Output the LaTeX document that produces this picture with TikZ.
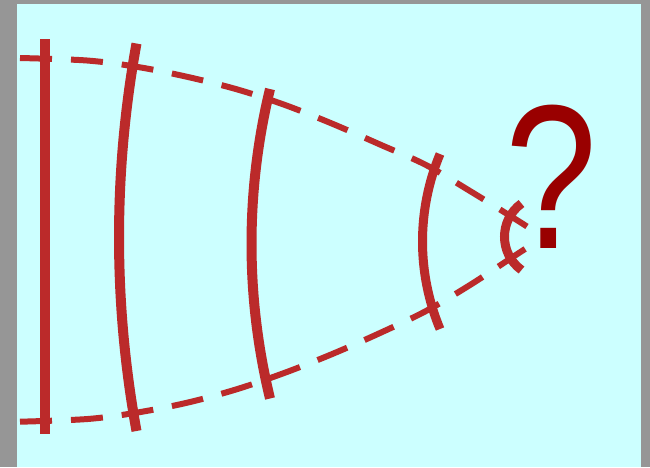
\documentclass[tikz,border=0pt]{standalone}
\usepackage{fontspec}
\setmainfont{Liberation Sans}
\definecolor{bggray}{RGB}{150,150,150}
\definecolor{bgcyan}{RGB}{204,255,255}
\definecolor{wavered}{RGB}{187,42,42}
\definecolor{qred}{RGB}{153,0,0}
\tikzset{
  beamline/.style={draw=wavered, line width=6pt, dash pattern=on 32pt off 19pt},
  wavefront/.style={draw=wavered, line width=10pt},
  qmark/.style={text=qred, inner sep=0pt, font=\fontsize{192}{192}\selectfont}
}
\begin{document}
\begin{tikzpicture}[x=1pt, y=-1pt]
\fill[bggray] (0,0) rectangle (650,467);
\useasboundingbox (0,0) rectangle (650,467);
\fill[bgcyan] (17,4) rectangle (641,467);
% beam edges
\draw[beamline] plot[smooth, tension=0.55] coordinates {(20,58) (87,60.5) (138,67) (188,77) (237.5,89.5) (285,105) (333,124) (380,144.5) (426,165) (470,191) (512,217) (527,226.5)};
\draw[beamline] plot[smooth, tension=0.55] coordinates {(20,421.7) (87.5,419) (137.5,412.5) (188,402.5) (237.5,389) (285.5,372.5) (333,353.7) (380,333) (426,311) (470,285) (512,257.5) (527,247.7)};
% wavefronts
\draw[wavefront] (44.5,39) -- (44.5,434);
\draw[wavefront] (136.5,43.5) .. controls (113.2,171.7) and (113.2,302.8) .. (136.5,431);
\draw[wavefront] (270,89) .. controls (245.35,190.65) and (245.35,296.85) .. (270,398.5);
\draw[wavefront, line width=9pt] (440,154) .. controls (416.67,210) and (416.67,273) .. (440,329);
\draw[wavefront, line width=9pt] (521.5,203.5) .. controls (498.83,219.88) and (498.83,253.62) .. (521.5,270);
% question mark
\node[qmark, anchor=base] (q) at (551,248) {\scalebox{0.86}[1.07]{?}};
\end{tikzpicture}
\end{document}
